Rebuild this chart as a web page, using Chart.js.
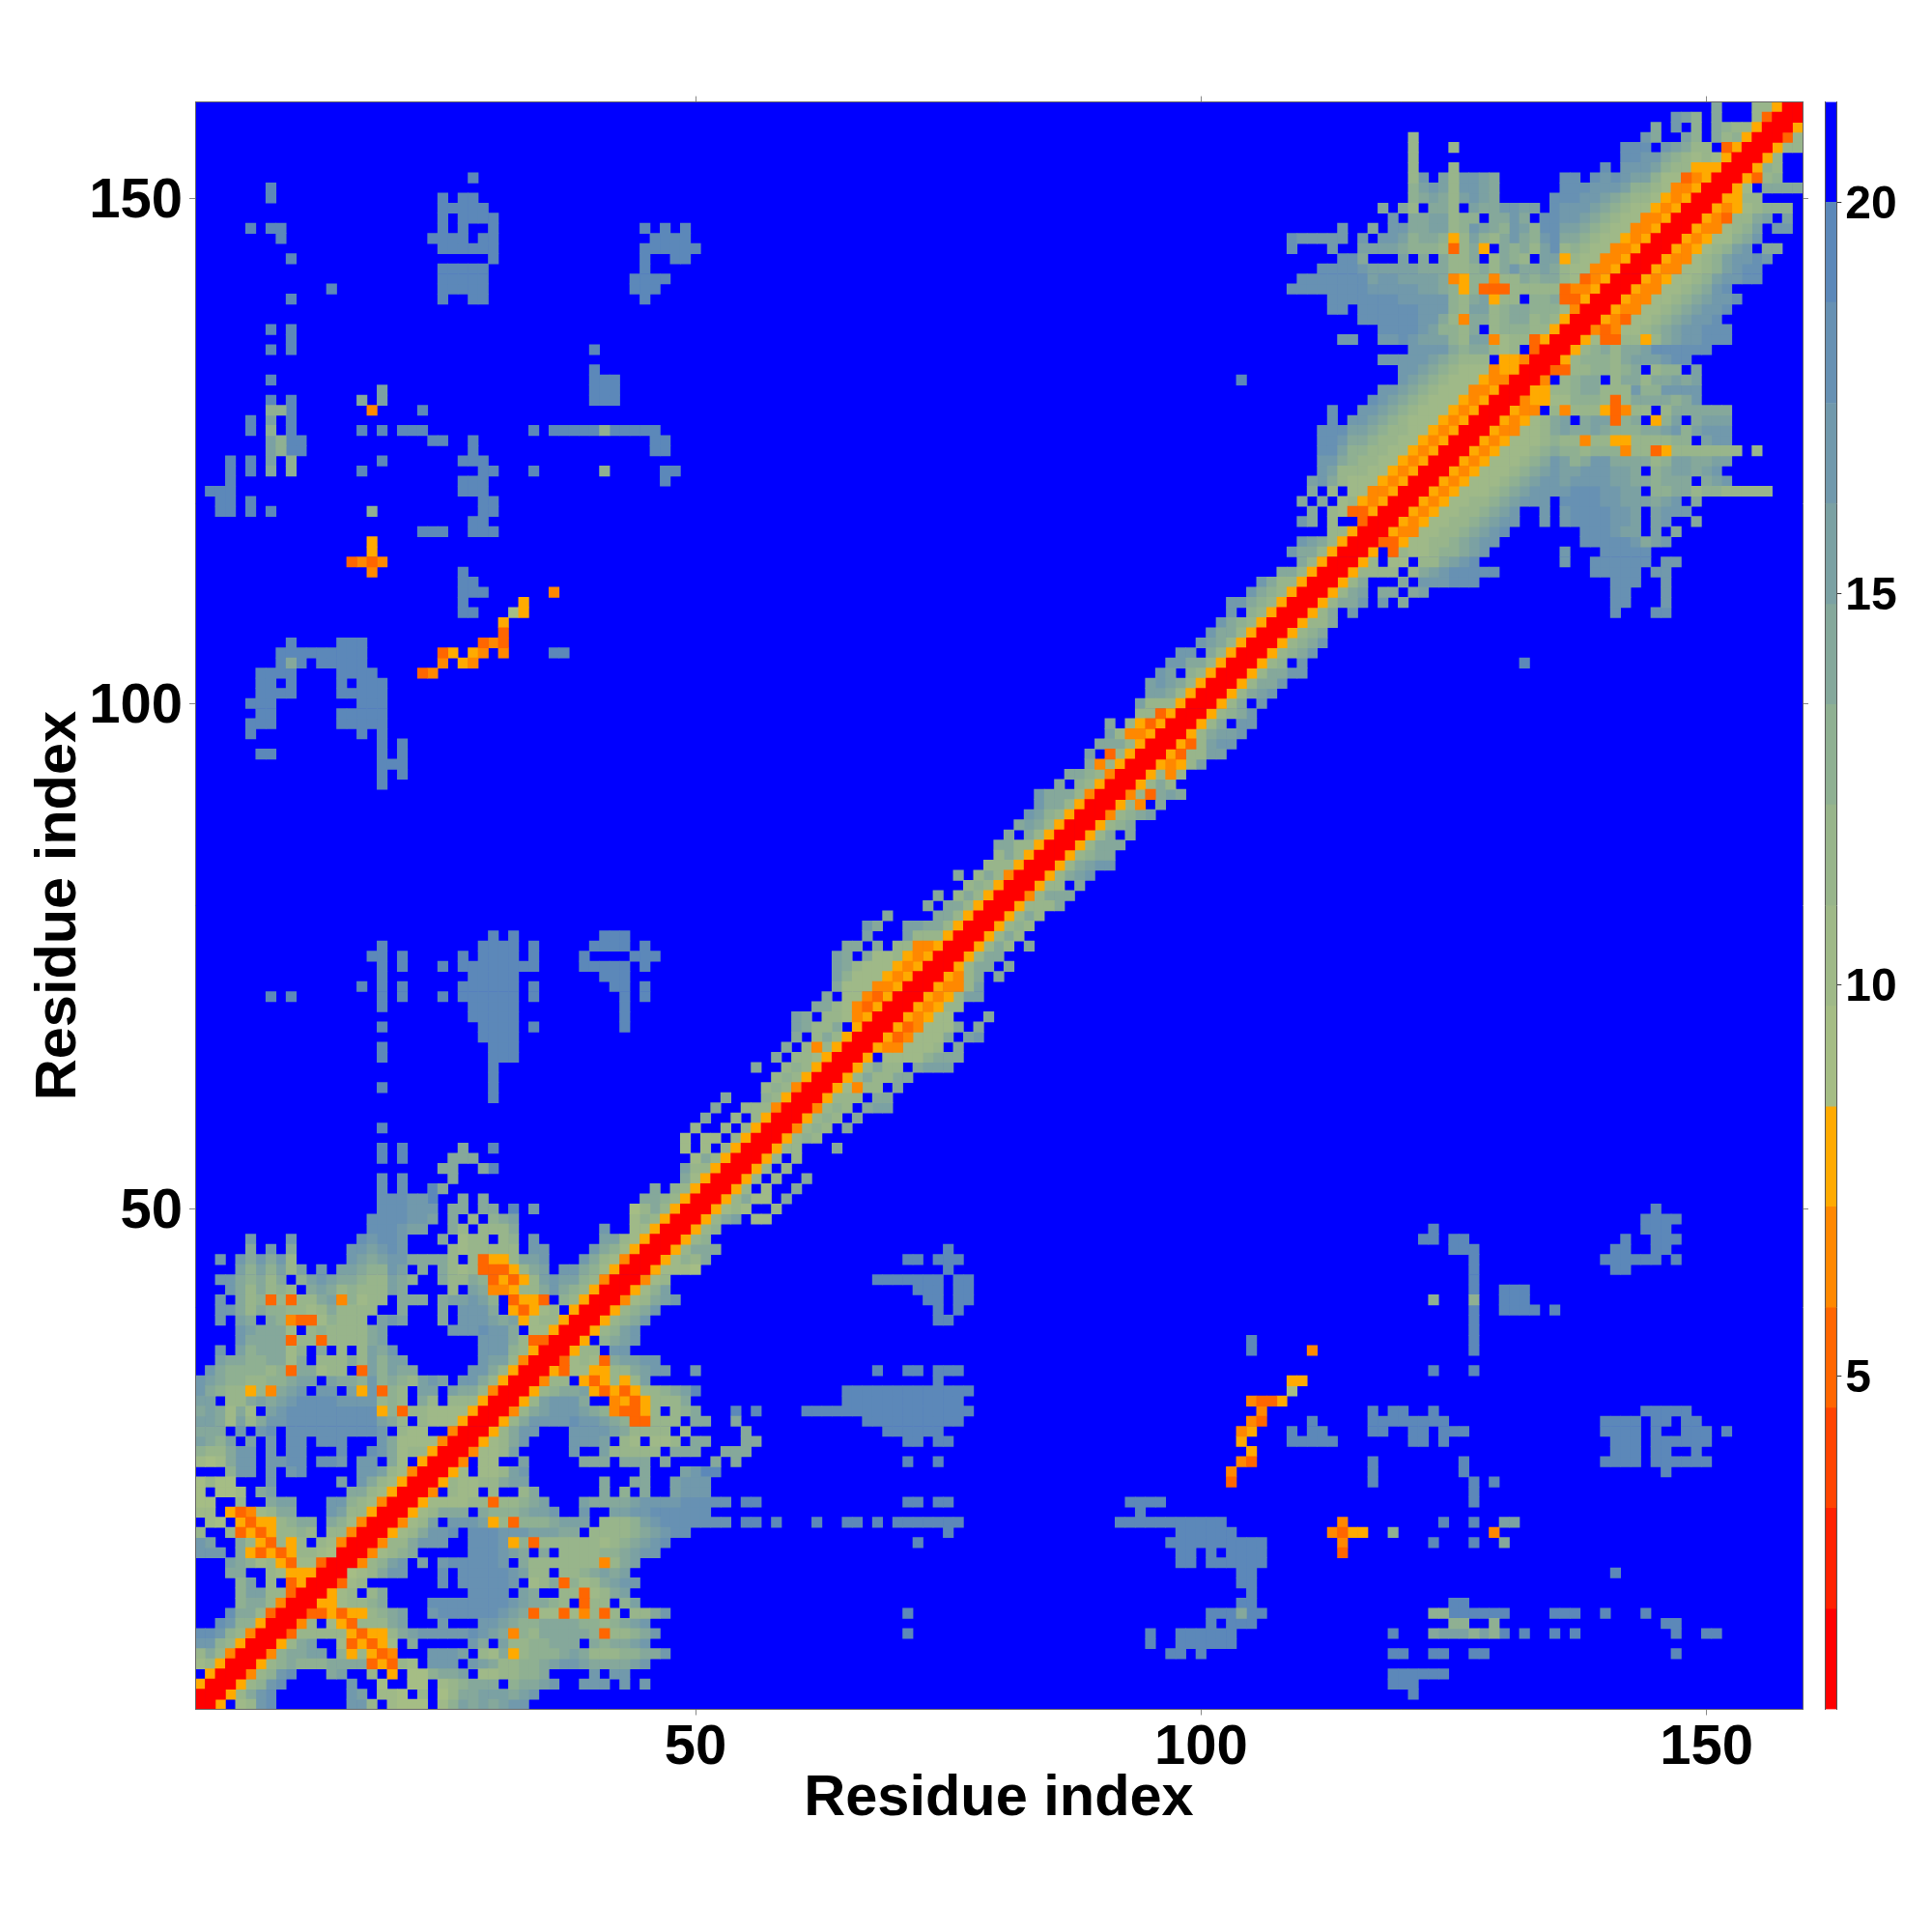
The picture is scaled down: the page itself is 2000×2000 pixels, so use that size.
<!DOCTYPE html>
<html>
<head>
<meta charset="utf-8">
<title>Residue contact map</title>
<script src="https://cdn.jsdelivr.net/npm/chart.js@4"></script>
<style>
  html, body { margin: 0; background: #fff; }
  #wrap { position: relative; width: 2000px; height: 2000px; }
  #mapChart { position: absolute; left: 0; top: 0; }
  #barChart { position: absolute; left: 1889px; top: 0; }
</style>
</head>
<body>
<div id="wrap">
  <canvas id="mapChart" width="2000" height="2000"></canvas>
  <canvas id="barChart" width="111" height="2000"></canvas>
</div>
<script>
const residueCount = 159;
const axisTicks = [50, 100, 150];
const barTicks = [5, 10, 15, 20];
const axisTitle = "Residue index";

// distance bins of the colour bar, bottom to top
const binEdges = [0.74, 2.02, 3.31, 4.59, 5.87, 7.16, 8.44, 9.73, 11.01, 12.3, 13.58, 14.86, 16.15, 17.43, 18.72, 20, 21.28];
const binColors = ["#ff0000", "#ff2200", "#ff4400", "#ff6600", "#ff8800", "#ffaa00",
  "#a5bd85", "#9fb988", "#98b58b", "#8fb092", "#85a89b", "#7ba1a3", "#7199ac", "#6791b3", "#5c88b9", "#0000ff"];

// one string per residue (row 1 first): "startColumn:bins"
// each char is a bin number in hex, "." is the top (blue) bin. Map is symmetric so only x >= y is kept.
const contactRows = [
  "1:005.78cd.......cc8.7666.79bababcc",
  "2:0058acd.......cb.776.8.68aabbbabc 121:e",
  "3:00589cd......c..6..66.789aaa.9aabc..ccc.c.c 119:eee",
  "4:00489cd...ab..8.5.669aab.778899a....c.cc 119:eeeeee",
  "5:00589a999aaaa35387.ccc.cba8899abccbaaaabc",
  "6:0049aabb.958534...cccb.87a58999aba88899aac 97:ee.e 119:ee 123:ee 127:ee 147:e",
  "7:0058ab..735357.a.....ca.b8899aaa.a9aabc 95:e 98:eeeeee",
  "8:0038888853558abcccccdcba498aaaaa93889ac 71:e 95:e 98:eeeeee 119:e 123:abbb9b9e 132:e 135:e 137:e 147:e 150:ee",
  "9:0048.753888ab...c...ccba99aaaa9989abc 101:e 103:eee 125:99 129:9 146:ee",
  "10:0033535589ab..cddddddcba377374838.88ac 71:e 101:eeeaee 123:99eeeeee 135:eee 140:e 144:e",
  "11:00557889a....ddddddddcbaa98.388.9b 104:ee 125:ee",
  "12:00578.8a........dddd.ba..88378ab 105:e",
  "13:00378.......d.dddddc.78a3978abcc 104:ee",
  "14:00678acc...d.dddddcb88.889abab 104:ee 141:e",
  "15:00489bc.b.cdddddc.a888888848ab 98:ee.eeeeee",
  "16:004789a.....dddcba.a.888899abcc 98:ee.e.eeee 114:3",
  "17:00488accc..dddc593888888789abcd 72:e 97:eeeeeeeeee 114:4 123:e 127:e 130:a",
  "18:00578accd.dddcccbbbaa.88889abcdd 75:e 98:eeeeee 113:4355 119:9 129:4",
  "19:00478b.cccb583999abbb.8889bcdddd 51:ddd 55:ee 58:e 62:e 65:ee 68:e 70:eeeeeee 92:eeeeeeeeeee 114:4 124:e 127:e 130:bb",
  "20:00578aaa.a999abbc..c..bbccdddddd 94:e",
  "21:0057777883889ab...baaaabccccddddd 55:ee 71:ee 74:ee 93:eeee 127:e",
  "22:004.877.8..8a......a.9.a..bccc 127:e",
  "23:00587788abb.......a..aa..bccc 103:3 117:e 127:e 129:e",
  "24:0057.778bc...........a...bc 51:ee 103:4 117:e 126:e 146:e",
  "25:004.77..b.....aaa.aaa.a 52:a 54:a 71:e 74:e 104:43 117:e 126:e 140:eeee 145:eeeeee",
  "26:004778b.....c..b88888.aaa 53:aaa 105:5 141:eee 145:ee 149:e",
  "27:00578ac....cccb.87.778.a 51:a 55:aa 71:ee 74:ee 104:5 109:eeeee 121:ee 124:e 141:eee 145:eeeeee",
  "28:0058acc...ccccba8888.8. 55:a 69:eeeeee 104:45 109:e 111:ee 117:ee 121:ee 124:eee 140:eeee 145:e 148:eee 152:e",
  "29:0058accccdccba933888.aa 54:a 67:eeeeeeeeee 105:43 111:e 117:eeeeeeee 140:eeee 145:ee 148:ee",
  "30:0048abcccba943358.89a 54:e 56:e 61:eeeeeeeeeeeeeeeee 106:4 117:e 119:ee 123:e 144:eeeee",
  "31:0058bccca..4535888a. 65:eeeeeeeeeeee 105:4335",
  "32:00589aab53535889ab 50:e 65:eeeeeeeeeeeee 109:6",
  "33:00488.535858b 74:e 109:55",
  "34:0053775588abcc..c 68:e 71:ee 74:eee 123:e 127:e",
  "35:0037873abbcc",
  "36:00588.cc 105:e 111:4 127:e",
  "37:005.9abc 105:e 127:e",
  "38:00589bc 127:e",
  "39:00589ac 74:ee 127:e",
  "40:00589ac 74:e 76:e 127:e 130:eeee 135:e",
  "41:00478abc 73:ee 76:ee 123:9 127:9 130:eee",
  "42:00579b 72:eee 76:ee 127:e 130:eee",
  "43:00478 68:eeeeeee 76:ee 127:e",
  "44:0057776 75:e 127:e 141:ee",
  "45:005798a 71:ee 74:eee 127:e 140:eeeeee 147:e",
  "46:0058aaa 75:e 125:eee 141:ee 145:ee",
  "47:00589 122:ee 125:ee 142:e 145:eee",
  "48:00589 123:e 144:eee",
  "49:0058ab.77 144:eeee",
  "50:005787..8 145:e",
  "51:0058a77.a",
  "52:0058.7..a",
  "53:0058.8..a",
  "54:0058.8",
  "55:0058.8",
  "56:00588 64:a",
  "57:005898",
  "58:004898.a",
  "59:005898.a",
  "60:004898.abb",
  "61:005888.aa",
  "62:0057488.a",
  "63:0058a88aa",
  "64:0058a88.abbb",
  "65:005.77779aaa",
  "66:005447778.a",
  "67:00534777a.bc",
  "68:00534777a.a",
  "69:0054577...a",
  "70:0054588",
  "71:005458bb",
  "72:005448b",
  "73:00548a.a",
  "74:0058aa.a",
  "75:0058aa",
  "76:0058a8.a",
  "77:0058a8",
  "78:005898",
  "79:0058a8",
  "80:005888a",
  "81:0048aaa",
  "82:00588.a",
  "83:0058abc",
  "84:0058abcc",
  "85:00589aa",
  "86:0058aaa",
  "87:0058a.a",
  "88:00589a",
  "89:00489ab",
  "90:00584.a",
  "91:00483aba",
  "92:0058a8",
  "93:005848",
  "94:005458b",
  "95:005388bb",
  "96:00538bcc",
  "97:0058abbc",
  "98:0058a.cc",
  "99:00589ac",
  "100:0058a.c",
  "101:0058abc",
  "102:0058aac",
  "103:0058aacc",
  "104:00589.c 132:e",
  "105:00589ac",
  "106:00589ac",
  "107:00589a",
  "108:00588a",
  "109:0058a.c 141:d 145:dd",
  "110:0058aac 118:c.a 141:dd 146:c",
  "111:0058ab 118:aa.ab 141:dd 146:c",
  "112:0058a...a.cccddd 141:ddd 146:c",
  "113:0058888.8abcddddd 139:ddddd 145:cc",
  "114:0058.77.88abcd 136:c 139:dddddd 146:cc",
  "115:005.3877899abc 136:c 140:ddddd",
  "116:0033577889abcc 138:dddddcabc",
  "117:0054477889abcd 138:dddcbb.b.a",
  "118:0054577889abcc..c.cddddccb.bc..a",
  "119:0054577889abc..c.cddddccb.bccc",
  "120:0054577889abccc.ddddccbbbabc.a",
  "121:0054577789abccccdddccbb.99aa89988888",
  "122:0054577789abccbccccbbaa9aaa.abc",
  "123:0054577789abcbbcccbba.9abbabc",
  "124:0054577789acb9accaaaa89bbaabb",
  "125:0054577789a998999488358888888.8",
  "126:00545777898848855888899.bcc",
  "127:00544778abaaba999aabc9bccc",
  "128:0054578ab.abb39a.59b.abbb",
  "129:00544.8488853488.8aaaaaa",
  "130:0045577999838aaaa9ac",
  "131:0055889aa888c99cccc",
  "132:004.89aa.8aa8aabab",
  "133:0033889989a.899.b",
  "134:00589998abbbcdd",
  "135:00589a8aabdddddd",
  "136:0057338858abccddd",
  "137:004347789abccddd",
  "138:005437789abccd",
  "139:005447789abccd",
  "140:005447789abccd",
  "141:005447789acd",
  "142:005457789bccdd",
  "143:005447789bcdd",
  "144:00544789bccdc",
  "145:00545789bc.aa",
  "146:00545779ac",
  "147:00544789b.cc",
  "148:0054388ab.b",
  "149:0054578999",
  "150:005588",
  "151:0057.aaaa",
  "152:005389",
  "153:00598",
  "154:0058",
  "155:00588",
  "156:0038",
  "157:005",
  "158:00",
  "159:0"
];

const BLUE_BIN = binColors.length - 1;

function readMatrix() {
  const grid = [];
  for (let y = 0; y <= residueCount; y++) grid.push(new Array(residueCount + 1).fill(BLUE_BIN));
  contactRows.forEach((row, i) => {
    const y = i + 1;
    row.split(" ").forEach(seg => {
      const [start, bins] = seg.split(":");
      [...bins].forEach((ch, k) => {
        if (ch === ".") return;
        const x = Number(start) + k;
        grid[y][x] = parseInt(ch, 16);
        grid[x][y] = grid[y][x];
      });
    });
  });
  return grid;
}

function cellsByBin() {
  const grid = readMatrix();
  const cells = binColors.map(() => []);
  for (let y = 1; y <= residueCount; y++) {
    for (let x = 1; x <= residueCount; x++) cells[grid[y][x]].push({ x: x, y: y });
  }
  return cells;
}

const fontName = "'Liberation Sans', Arial, sans-serif";
const tickFont = { family: fontName, size: 58, weight: "bold" };
const titleFont = { family: fontName, size: 59.5, weight: "bold" };
const frameColor = "#666";
const tickColor = "#888";

function fixedTicks(values) {
  return scale => { scale.ticks = values.map(v => ({ value: v })); };
}

function axis(extra, size, horizontal) {
  const base = {
    type: "linear",
    min: 0.5,
    max: residueCount + 0.5,
    afterBuildTicks: fixedTicks(axisTicks),
    afterFit: scale => {
      if (horizontal) scale.height = size;
      else scale.width = size;
    },
    grid: { drawOnChartArea: false, drawTicks: true, tickLength: 6, tickColor: tickColor, tickWidth: 1, z: 1 },
    border: { display: true, color: frameColor, width: 1, z: 1 },
    ticks: { display: false, autoSkip: false }
  };
  return Object.assign(base, extra);
}

function cellRadius(ctx) {
  const xs = ctx.chart.scales.x;
  const side = Math.abs(xs.getPixelForValue(2) - xs.getPixelForValue(1));
  // a rect point of radius r has a side of r * sqrt(2); the overlap hides seams between cells
  return (side + 0.7) / Math.SQRT2;
}

// blue under the cells so nothing white shows through at cell edges
const plotBackground = {
  id: "plotBackground",
  beforeDatasetsDraw(chart) {
    const a = chart.chartArea;
    chart.ctx.save();
    chart.ctx.fillStyle = binColors[BLUE_BIN];
    chart.ctx.fillRect(a.left, a.top, a.right - a.left, a.bottom - a.top);
    chart.ctx.restore();
  }
};

function drawMap() {
  const cells = cellsByBin();
  const datasets = binColors.map((color, i) => ({
    label: binEdges[i] + "-" + binEdges[i + 1],
    data: cells[i],
    pointStyle: "rect",
    pointRadius: cellRadius,
    pointBackgroundColor: color,
    pointBorderWidth: 0,
    clip: 0,
    showLine: false
  }));

  new Chart(document.getElementById("mapChart"), {
    type: "scatter",
    data: { datasets: datasets },
    plugins: [plotBackground],
    options: {
      responsive: false,
      devicePixelRatio: 1,
      animation: false,
      events: [],
      layout: { padding: 0 },
      plugins: { legend: { display: false }, tooltip: { enabled: false } },
      scales: {
        x: axis({
          position: "bottom",
          ticks: { display: true, color: "#000", font: tickFont, padding: 0, maxRotation: 0, autoSkip: false },
          title: { display: true, text: axisTitle, color: "#000", font: titleFont, padding: { top: 0, bottom: 102 } }
        }, 230.5, true),
        y: axis({
          position: "left",
          ticks: { display: true, color: "#000", font: tickFont, padding: 7, labelOffset: 4, autoSkip: false },
          title: { display: true, text: axisTitle, color: "#000", font: titleFont, padding: { top: 26, bottom: 0 } }
        }, 202, false),
        xTop: axis({ position: "top" }, 105.6, true),
        yRight: axis({ position: "right" }, 134, false)
      }
    }
  });
}

function drawColorBar() {
  const datasets = binColors.map((color, i) => ({
    label: "bin " + i,
    data: [[binEdges[i], binEdges[i + 1]]],
    backgroundColor: color,
    borderWidth: 0,
    barPercentage: 1,
    categoryPercentage: 1,
    grouped: false
  }));

  new Chart(document.getElementById("barChart"), {
    type: "bar",
    data: { labels: [""], datasets: datasets },
    options: {
      responsive: false,
      devicePixelRatio: 1,
      animation: false,
      events: [],
      layout: { padding: { top: 105.6, bottom: 230.5 } },
      plugins: { legend: { display: false }, tooltip: { enabled: false } },
      scales: {
        x: { display: false, stacked: false },
        y: {
          position: "right",
          stacked: false,
          min: binEdges[0],
          max: binEdges[binEdges.length - 1],
          afterBuildTicks: fixedTicks(barTicks),
          afterFit: scale => { scale.width = 98.7; },
          grid: { drawOnChartArea: false, tickLength: 5, tickColor: "#333", z: 1 },
          border: { display: true, color: "#555", width: 1, z: 1 },
          ticks: { color: "#000", font: { family: fontName, size: 48, weight: "bold" }, padding: 4, labelOffset: 3, autoSkip: false }
        },
        yLeft: {
          position: "left",
          stacked: false,
          min: binEdges[0],
          max: binEdges[binEdges.length - 1],
          afterFit: scale => { scale.width = 0; },
          grid: { drawOnChartArea: false, drawTicks: false },
          border: { display: true, color: "#555", width: 1, z: 1 },
          ticks: { display: false }
        }
      }
    }
  });
}

drawMap();
drawColorBar();
</script>
</body>
</html>
